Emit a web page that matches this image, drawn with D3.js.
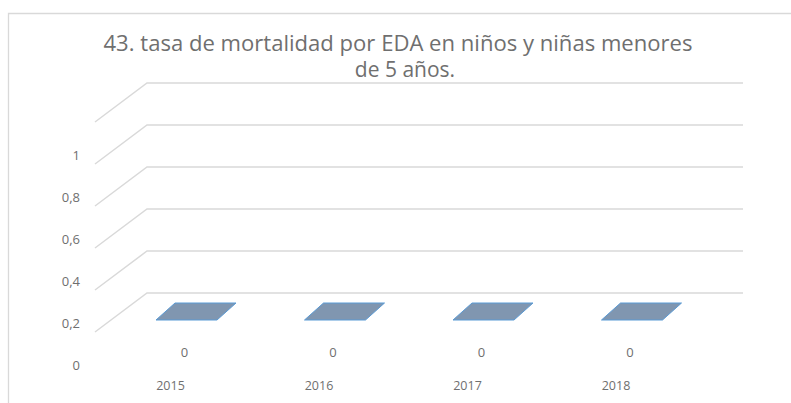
<!DOCTYPE html>
<html>
<head>
<meta charset="utf-8">
<script src="https://cdn.jsdelivr.net/npm/d3@7"></script>
<style>
  body { margin: 0; background: #fff; }
  text { font-family: "Open Sans", "Liberation Sans", sans-serif; fill: #6f6f6f; }
</style>
</head>
<body>
<div id="app"></div>
<script>
const w = 791;
const h = 403;

const titleLines = ["43. tasa de mortalidad por EDA en niños y niñas menores", "de 5 años."];
const categories = ["2015", "2016", "2017", "2018"];
const values = [0, 0, 0, 0];
const tickValues = [0, 0.2, 0.4, 0.6, 0.8, 1];
const tickLabels = ["0", "0,2", "0,4", "0,6", "0,8", "1"];

const svg = d3.select('#app')
  .append('svg')
  .attr('width', w)
  .attr('height', h);

// chart area border (runs off the right and bottom of the picture)
svg.append('path')
  .attr('d', 'M8.5,' + h + 'V13.5H' + w)
  .attr('fill', 'none')
  .attr('stroke', '#d9d9d9')
  .attr('stroke-width', 1.3);

//////////TITLE//////////

svg.append('text')
  .attr('x', 398)
  .attr('y', 51)
  .attr('text-anchor', 'middle')
  .attr('font-size', 21)
  .attr('textLength', 589)
  .attr('lengthAdjust', 'spacingAndGlyphs')
  .text(titleLines[0]);

svg.append('text')
  .attr('x', 405)
  .attr('y', 77)
  .attr('text-anchor', 'middle')
  .attr('font-size', 21)
  .text(titleLines[1]);

//////////3D WALLS//////////

const y = d3.scaleLinear().domain([0, 1]).range([293, 83]);
const backLeft = 147, backRight = 743;
const depth = { dx: -52, dy: 39 };

const grid = svg.append('g')
  .attr('fill', 'none')
  .attr('stroke', '#d9d9d9')
  .attr('stroke-width', 1.5);

grid.selectAll('path')
  .data(tickValues)
  .enter()
  .append('path')
  .attr('d', (d) => 'M' + (backLeft + depth.dx) + ',' + (y(d) + depth.dy) +
    'L' + backLeft + ',' + y(d) + 'H' + backRight);

svg.append('g')
  .selectAll('text')
  .data(tickValues)
  .enter()
  .append('text')
  .attr('x', 80)
  .attr('y', (d) => y(d) + 77)
  .attr('text-anchor', 'end')
  .attr('font-size', 13)
  .text((d, i) => tickLabels[i]);

//////////BARS//////////

const x = d3.scalePoint().domain(categories).range([186.5, 632]);
const barW = 61;
const faceDepth = { dx: 19, dy: -17 };
const floorFront = 320;

svg.append('g')
  .selectAll('path')
  .data(values)
  .enter()
  .append('path')
  .attr('d', (d, i) => {
    const x0 = x(categories[i]) - barW / 2;
    const top = floorFront - (y(0) - y(d));
    return 'M' + x0 + ',' + top +
      'L' + (x0 + barW) + ',' + top +
      'L' + (x0 + barW + faceDepth.dx) + ',' + (top + faceDepth.dy) +
      'L' + (x0 + faceDepth.dx) + ',' + (top + faceDepth.dy) + 'Z';
  })
  .attr('fill', '#8096b0')
  .attr('stroke', '#5b9bd5')
  .attr('stroke-width', 1);

svg.append('g')
  .selectAll('text')
  .data(values)
  .enter()
  .append('text')
  .attr('x', (d, i) => x(categories[i]) - 2)
  .attr('y', 357)
  .attr('text-anchor', 'middle')
  .attr('font-size', 13)
  .text((d) => String(d).replace('.', ','));

svg.append('g')
  .selectAll('text')
  .data(categories)
  .enter()
  .append('text')
  .attr('x', (d) => x(d) - 16)
  .attr('y', 390)
  .attr('text-anchor', 'middle')
  .attr('font-size', 12.5)
  .text((d) => d);
</script>
</body>
</html>
